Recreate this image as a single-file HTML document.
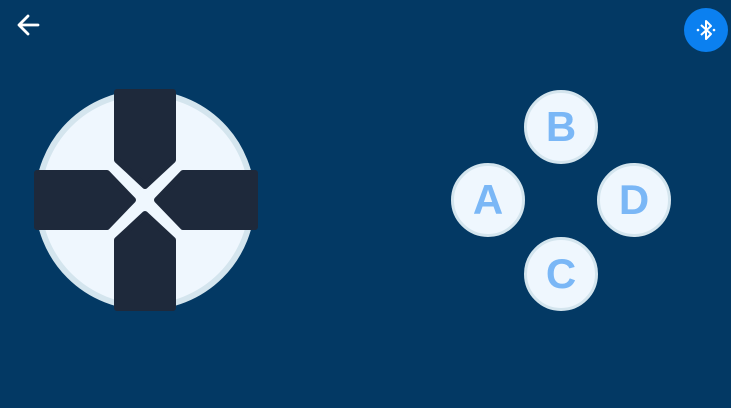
<!DOCTYPE html>
<html><head><meta charset="utf-8"><style>
html,body{margin:0;padding:0;}
body{width:731px;height:408px;background:#033964;overflow:hidden;position:relative;font-family:"Liberation Sans",sans-serif;}
.btn{position:absolute;width:68px;height:68px;border-radius:50%;background:#eff7fe;border:3px solid #d4e5ee;display:flex;align-items:center;justify-content:center;color:#7ab7f6;font-weight:bold;font-size:42px;cursor:pointer;}
</style></head><body>
<svg style="position:absolute;left:16px;top:13px" width="26" height="24" viewBox="0 0 26 24">
<path d="M22 12H4M12 3L3 12L12 21" stroke="#fff" stroke-width="2.8" fill="none" stroke-linecap="round" stroke-linejoin="round"/></svg>
<div style="position:absolute;left:684px;top:8px;width:44px;height:44px;border-radius:50%;background:#0b80f0;">
<svg width="44" height="44" viewBox="0 0 44 44"><path d="M17 17L27 26L22 31V13L27 18L17 27" stroke="#fff" stroke-width="2" fill="none" stroke-linejoin="round"/><circle cx="14" cy="22" r="1.3" fill="#fff"/><circle cx="30" cy="22" r="1.3" fill="#fff"/></svg></div>
<svg style="position:absolute;left:0;top:0" width="300" height="330" viewBox="0 0 300 330">
<circle cx="145" cy="200" r="107" fill="#eff7fe" stroke="#d4e5ee" stroke-width="6"/>
<g fill="#1e293b" stroke="#1e293b" stroke-width="6" stroke-linejoin="round">
<polygon points="117,92 173,92 173,160 145,186 117,160"/>
<polygon points="117,308 173,308 173,240 145,214 117,240"/>
<polygon points="37,173 107,173 133,200 107,227 37,227"/>
<polygon points="255,173 183,173 157,200 183,227 255,227"/>
</g></svg>
<div class="btn" style="left:524px;top:90px">B</div>
<div class="btn" style="left:451px;top:163px">A</div>
<div class="btn" style="left:597px;top:163px">D</div>
<div class="btn" style="left:524px;top:237px">C</div>
</body></html>
